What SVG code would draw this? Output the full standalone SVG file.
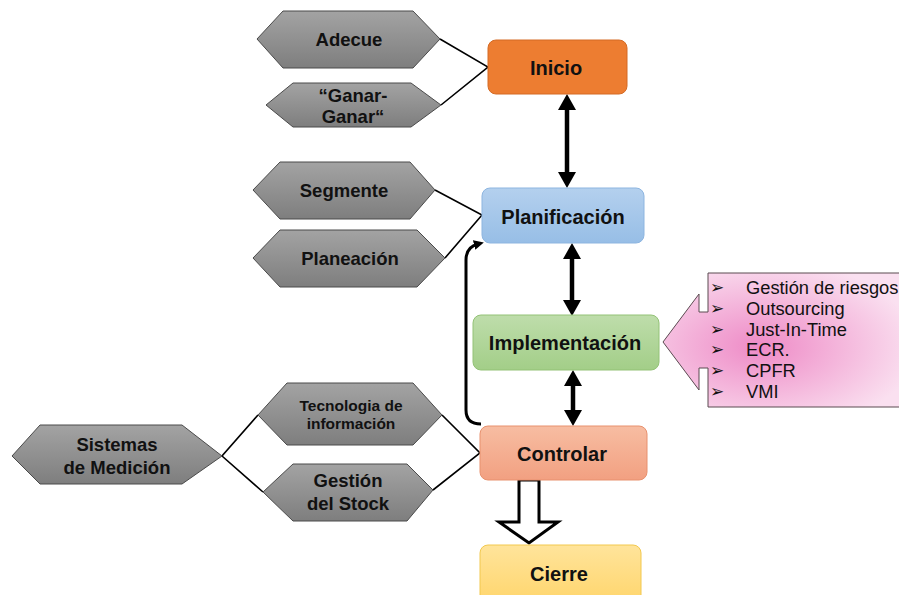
<svg xmlns="http://www.w3.org/2000/svg" width="899" height="595" viewBox="0 0 899 595">
  <defs>
    <linearGradient id="gHex" x1="0" y1="0" x2="0" y2="1">
      <stop offset="0" stop-color="#A3A3A3"/>
      <stop offset="1" stop-color="#7E7E7E"/>
    </linearGradient>
    <linearGradient id="gBlue" x1="0" y1="0" x2="0" y2="1">
      <stop offset="0" stop-color="#B4D0EE"/>
      <stop offset="1" stop-color="#97BEE6"/>
    </linearGradient>
    <linearGradient id="gGreen" x1="0" y1="0" x2="0" y2="1">
      <stop offset="0" stop-color="#BEDDAB"/>
      <stop offset="1" stop-color="#A3CE88"/>
    </linearGradient>
    <linearGradient id="gSalmon" x1="0" y1="0" x2="0" y2="1">
      <stop offset="0" stop-color="#F7BDA2"/>
      <stop offset="1" stop-color="#F2A081"/>
    </linearGradient>
    <linearGradient id="gYellow" x1="0" y1="0" x2="0" y2="1">
      <stop offset="0" stop-color="#FFE49B"/>
      <stop offset="1" stop-color="#FFD56B"/>
    </linearGradient>
    <radialGradient id="gPink" cx="0.4" cy="0.55" r="0.65">
      <stop offset="0" stop-color="#EE8AC6"/>
      <stop offset="1" stop-color="#FAE0F0"/>
    </radialGradient>
    <marker id="headBig" viewBox="0 0 16 18" refX="6" refY="9" markerWidth="16" markerHeight="18" markerUnits="userSpaceOnUse" orient="auto-start-reverse">
      <path d="M0,0 L16,9 L0,18 z" fill="#000"/>
    </marker>
    <marker id="headSmall" viewBox="0 0 10 10" refX="4" refY="5" markerWidth="10" markerHeight="10" markerUnits="userSpaceOnUse" orient="auto">
      <path d="M0,0 L10,5 L0,10 z" fill="#000"/>
    </marker>
    <style>
      .hex { fill: url(#gHex); stroke: #4A4A4A; stroke-width: 1; }
      .lbl { font-family: "Liberation Sans", Arial, sans-serif; font-weight: bold; fill: #111; text-anchor: middle; dominant-baseline: central; }
      .hl { font-size: 18.5px; }
      .bl { font-size: 20px; }
      .box { stroke-width: 1; }
      .link { fill: none; stroke: #000; stroke-width: 1.6; }
      .dbl { fill: none; stroke: #000; stroke-width: 4.5; marker-start: url(#headBig); marker-end: url(#headBig); }
      .item { font-family: "Liberation Sans", Arial, sans-serif; font-size: 18.3px; fill: #111; }
      .bul { font-family: "DejaVu Sans", sans-serif; font-size: 17px; fill: #111; }
    </style>
  </defs>

  <!-- connectors -->
  <g id="connectors">
    <polyline class="link" points="440,39 488,67 441,105"/>
    <polyline class="link" points="435,190 482,215 445,258"/>
    <polyline class="link" points="442,415 480,453 433,490"/>
    <polyline class="link" points="258,415 222,456 263,492"/>
    <line class="dbl" x1="567" y1="104" x2="567" y2="178"/>
    <line class="dbl" x1="572" y1="253" x2="572" y2="306"/>
    <line class="dbl" x1="573" y1="380" x2="573" y2="416"/>
    <path d="M481,424 Q466,424 466,410 L466,260 Q466,247 478,244" fill="none" stroke="#000" stroke-width="3" marker-end="url(#headSmall)"/>
    <polygon points="519,480 539,480 539,522 558,522 529,543 499,522 519,522" fill="#fff" stroke="#000" stroke-width="3" stroke-linejoin="miter"/>
  </g>

  <!-- hexagons -->
  <g id="adecue">
    <polygon class="hex" points="257,39 283,11 413,11 440,39 413,68 283,68"/>
    <text class="lbl hl" x="349" y="39">Adecue</text>
  </g>
  <g id="ganar">
    <polygon class="hex" points="266,105 293,83 411,83 441,105 411,127 293,127"/>
    <text class="lbl hl" x="353" y="95">“Ganar-</text>
    <text class="lbl hl" x="353" y="116">Ganar“</text>
  </g>
  <g id="segmente">
    <polygon class="hex" points="253,190 280,162 410,162 435,190 410,219 280,219"/>
    <text class="lbl hl" x="344" y="190">Segmente</text>
  </g>
  <g id="planeacion">
    <polygon class="hex" points="253,258 280,230 417,230 445,258 417,287 280,287"/>
    <text class="lbl hl" x="350" y="258">Planeación</text>
  </g>
  <g id="sistemas">
    <polygon class="hex" points="12,456 40,425 182,425 222,456 182,484 40,484"/>
    <text class="lbl hl" x="117" y="444">Sistemas</text>
    <text class="lbl hl" x="117" y="467">de Medición</text>
  </g>
  <g id="tecnologia">
    <polygon class="hex" points="258,415 287,383 413,383 442,415 413,445 287,445"/>
    <text class="lbl" x="351" y="405" font-size="15.5">Tecnologia de</text>
    <text class="lbl" x="351" y="423" font-size="15.5">información</text>
  </g>
  <g id="stock">
    <polygon class="hex" points="263,492 293,464 407,464 433,490 407,521 293,521"/>
    <text class="lbl hl" x="348" y="480">Gestión</text>
    <text class="lbl hl" x="348" y="503">del Stock</text>
  </g>

  <!-- process boxes -->
  <g id="inicio">
    <rect class="box" x="488" y="40" width="139" height="54" rx="8" fill="#ED7D31" stroke="#D46B25"/>
    <text class="lbl bl" x="556" y="68">Inicio</text>
  </g>
  <g id="planificacion">
    <rect class="box" x="482" y="188" width="162" height="55" rx="8" fill="url(#gBlue)" stroke="#8DB5E0"/>
    <text class="lbl bl" x="563" y="217">Planificación</text>
  </g>
  <g id="implementacion">
    <rect class="box" x="473" y="315" width="186" height="55" rx="8" fill="url(#gGreen)" stroke="#93C276"/>
    <text class="lbl bl" x="565" y="343">Implementación</text>
  </g>
  <g id="controlar">
    <rect class="box" x="480" y="426" width="167" height="54" rx="8" fill="url(#gSalmon)" stroke="#E8916E"/>
    <text class="lbl bl" x="562" y="454">Controlar</text>
  </g>
  <g id="cierre">
    <rect class="box" x="480" y="545" width="161" height="60" rx="8" fill="url(#gYellow)" stroke="#F2C84E"/>
    <text class="lbl bl" x="559" y="574">Cierre</text>
  </g>

  <!-- callout with implementation strategies -->
  <g id="estrategias">
    <polygon points="708,273 905,273 905,407 708,407 708,368 699,368 699,390 663,342 699,294 699,312 708,312" fill="url(#gPink)" stroke="#5A4A50" stroke-width="1"/>
    <text class="bul" x="710" y="293">➢</text>
    <text class="bul" x="710" y="314">➢</text>
    <text class="bul" x="710" y="335">➢</text>
    <text class="bul" x="710" y="355">➢</text>
    <text class="bul" x="710" y="376">➢</text>
    <text class="bul" x="710" y="397">➢</text>
    <text class="item" x="746" y="294">Gestión de riesgos</text>
    <text class="item" x="746" y="315">Outsourcing</text>
    <text class="item" x="746" y="336">Just-In-Time</text>
    <text class="item" x="746" y="356">ECR.</text>
    <text class="item" x="746" y="377">CPFR</text>
    <text class="item" x="746" y="398">VMI</text>
  </g>
</svg>
